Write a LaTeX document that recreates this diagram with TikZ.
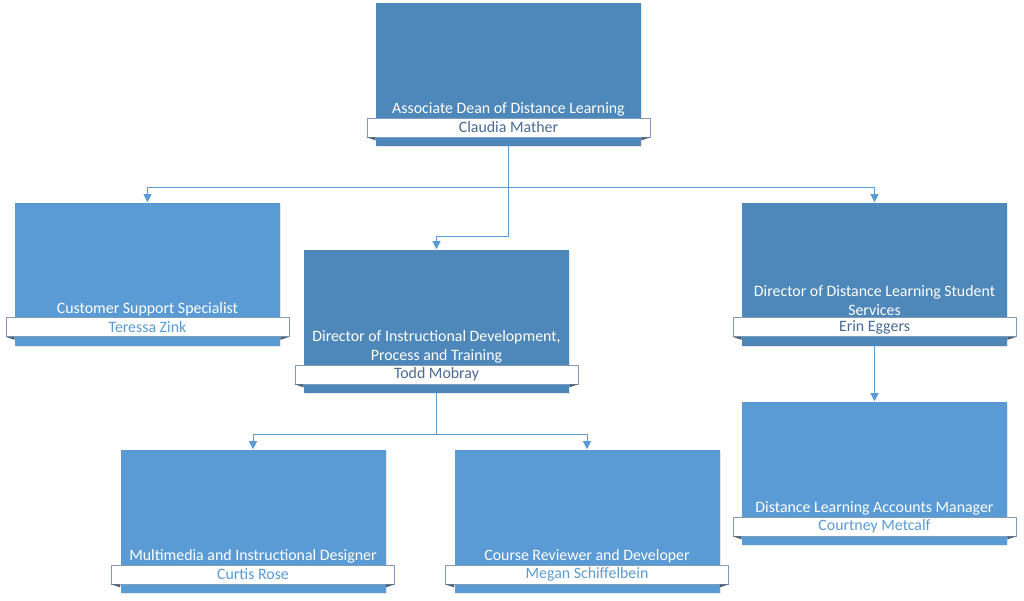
\documentclass[tikz,border=0pt]{standalone}
\usepackage{fontspec}
\setmainfont{Carlito}
\usetikzlibrary{arrows.meta,shadows}
\definecolor{headblue}{HTML}{4E87BA}
\definecolor{staffblue}{HTML}{5B9BD5}
\definecolor{namegray}{HTML}{4A6A96}
\definecolor{bandline}{HTML}{7F9CB8}
\definecolor{foldblue}{HTML}{4A5F78}
\begin{document}
\begin{tikzpicture}[x=0.75pt,y=-0.75pt,
    font=\fontsize{11.9}{14.2}\selectfont,
    box/.style={rectangle, minimum width=198.75pt, minimum height=107.25pt, inner sep=0pt,
      drop shadow={opacity=0.2, shadow xshift=1pt, shadow yshift=-1pt}},
    headbox/.style={box, fill=headblue},
    staffbox/.style={box, fill=staffblue},
    band/.style={rectangle, draw=bandline, line width=0.5pt, fill=white, minimum width=212.25pt,
      minimum height=14.25pt, inner sep=0pt},
    title/.style={anchor=south, text=white, align=center, inner sep=0.8pt},
    link/.style={draw=staffblue, line width=0.75pt, -{Triangle[width=6pt,length=6pt]}}]
  \useasboundingbox (0,0) rectangle (1024,600);

  % boxes
  \node[headbox] (dean) at (508.5,74.5) {};
  \node[staffbox] (cust) at (147.5,274) {};
  \node[headbox] (dirin) at (436.5,321) {};
  \node[headbox] (dirdl) at (874.5,274) {};
  \node[staffbox] (media) at (253,521) {};
  \node[staffbox] (review) at (587,521) {};
  \node[staffbox] (accts) at (874.5,473) {};

  % name bands
  \node[band, text=namegray] (deanN) at (508.5,127.5) {Claudia Mather};
  \node[band, text=staffblue] (custN) at (147.5,327) {Teressa Zink};
  \node[band, text=namegray] (dirinN) at (436.5,374.5) {Todd Mobray};
  \node[band, text=namegray] (dirdlN) at (874.5,327) {Erin Eggers};
  \node[band, text=staffblue] (mediaN) at (253,574.5) {Curtis Rose};
  \node[band, text=staffblue] (reviewN) at (587,574.5) {Megan Schiffelbein};
  \node[band, text=staffblue] (acctsN) at (874.5,526.5) {Courtney Metcalf};

  % folded band ends
  \foreach \b in {dean,cust,dirin,dirdl,media,review,accts}{
    \fill[foldblue] (\b N.south west) -- (\b.west |- \b N.south) -- ++(0,3) -- cycle;
    \fill[foldblue] (\b N.south east) -- (\b.east |- \b N.south) -- ++(0,3) -- cycle;
  }

  % titles
  \node[title] at (deanN.north) {Associate Dean of Distance Learning};
  \node[title] at (custN.north) {Customer Support Specialist};
  \node[title] at (dirinN.north) {Director of Instructional Development,\\Process and Training};
  \node[title] at (dirdlN.north) {Director of Distance Learning Student\\Services};
  \node[title] at (mediaN.north) {Multimedia and Instructional Designer};
  \node[title] at (reviewN.north) {Course Reviewer and Developer};
  \node[title] at (acctsN.north) {Distance Learning Accounts Manager};

  % connectors
  \coordinate (bus) at (508.5,187);
  \coordinate (drop) at (508.5,236);
  \coordinate (bus2) at (436.5,434);
  \draw[draw=staffblue, line width=0.75pt] (dean.south) -- (bus) -- (drop);
  \draw[link] (bus) -| (cust.north);
  \draw[link] (bus) -| (dirdl.north);
  \draw[link] (drop) -| (dirin.north);
  \draw[draw=staffblue, line width=0.75pt] (dirin.south) -- (bus2);
  \draw[link] (bus2) -| (media.north);
  \draw[link] (bus2) -| (review.north);
  \draw[link] (dirdl.south) -- (accts.north);
\end{tikzpicture}
\end{document}
